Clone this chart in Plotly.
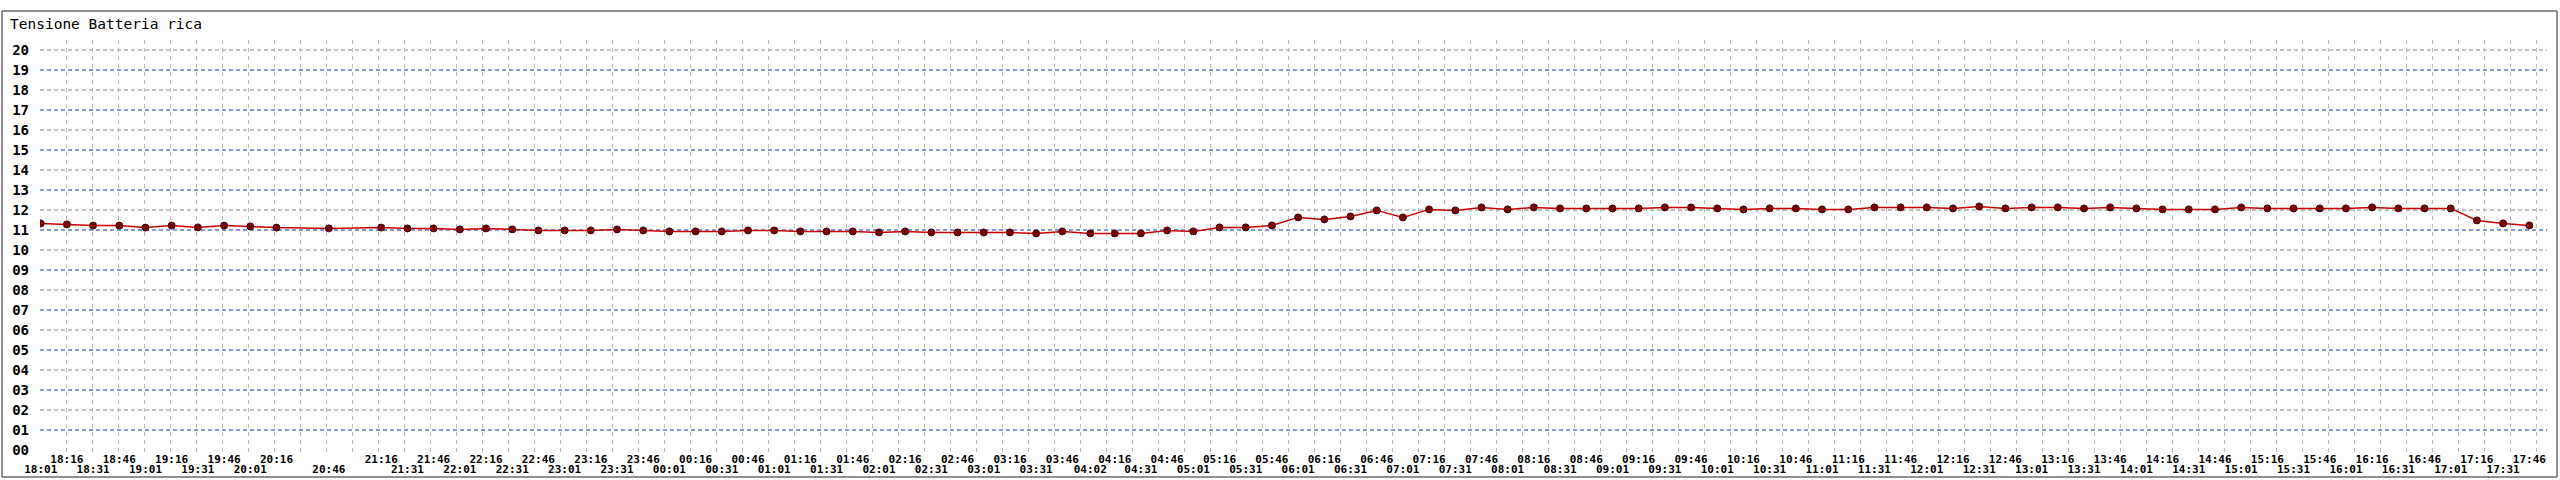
import plotly.graph_objects as go

# --- battery voltage readings, one every ~15 minutes (20:31 and 21:01 missing) ---
times = [
    "18:01", "18:16", "18:31", "18:46", "19:01", "19:16", "19:31", "19:46",
    "20:01", "20:16", "20:46", "21:16", "21:31", "21:46", "22:01", "22:16",
    "22:31", "22:46", "23:01", "23:16", "23:31", "23:46", "00:01", "00:16",
    "00:31", "00:46", "01:01", "01:16", "01:31", "01:46", "02:01", "02:16",
    "02:31", "02:46", "03:01", "03:16", "03:31", "03:46", "04:02", "04:16",
    "04:31", "04:46", "05:01", "05:16", "05:31", "05:46", "06:01", "06:16",
    "06:31", "06:46", "07:01", "07:16", "07:31", "07:46", "08:01", "08:16",
    "08:31", "08:46", "09:01", "09:16", "09:31", "09:46", "10:01", "10:16",
    "10:31", "10:46", "11:01", "11:16", "11:31", "11:46", "12:01", "12:16",
    "12:31", "12:46", "13:01", "13:16", "13:31", "13:46", "14:01", "14:16",
    "14:31", "14:46", "15:01", "15:16", "15:31", "15:46", "16:01", "16:16",
    "16:31", "16:46", "17:01", "17:16", "17:31", "17:46",
]
volts = [
    11.33, 11.28, 11.22, 11.22, 11.12, 11.22, 11.13, 11.22,
    11.18, 11.12, 11.08, 11.12, 11.08, 11.08, 11.03, 11.08,
    11.03, 10.98, 10.98, 10.98, 11.03, 10.98, 10.93, 10.93,
    10.93, 10.98, 10.98, 10.93, 10.93, 10.93, 10.88, 10.93,
    10.88, 10.88, 10.88, 10.88, 10.83, 10.93, 10.83, 10.83,
    10.83, 10.98, 10.93, 11.13, 11.13, 11.23, 11.63, 11.53,
    11.68, 11.98, 11.63, 12.03, 11.98, 12.13, 12.03, 12.13,
    12.08, 12.08, 12.08, 12.08, 12.13, 12.13, 12.08, 12.03,
    12.08, 12.08, 12.03, 12.03, 12.13, 12.13, 12.13, 12.08,
    12.18, 12.08, 12.13, 12.13, 12.08, 12.13, 12.08, 12.03,
    12.03, 12.03, 12.13, 12.08, 12.08, 12.08, 12.08, 12.13,
    12.08, 12.08, 12.08, 11.48, 11.33, 11.23,
]
y_ticks = list(range(0, 21))
y_labels = [f"{v:02d}" for v in y_ticks]


def minutes(t):
    h, m = map(int, t.split(":"))
    d = h * 60 + m - (18 * 60 + 1)
    return d + 1440 if d < 0 else d


x = [minutes(t) for t in times]

# labels alternate between two rows
top_x, top_lbl = x[1::2], times[1::2]
bot_x, bot_lbl = x[0::2], times[0::2]

# --- page geometry (pixels) ---
W, H = 2560, 480
L, R, T, B = 40, 13, 40, 24
PW, PH = W - L - R, H - T - B
px_per_min = 26.196 / 15
x0 = -0.7 / px_per_min
x_range = [x0, x0 + PW / px_per_min]
grid_step = 15 * 26.0 / 26.196

MONO = "DejaVu Sans Mono"
BLUE = "#0a30c4"
GRAY = "#858585"

fig = go.Figure()
fig.add_trace(go.Scatter(
    x=x, y=volts, mode="lines+markers",
    line=dict(color="#cc0000", width=1.5),
    marker=dict(color="#7a0000", size=7, line=dict(color="#4a0000", width=1)),
    showlegend=False))
# dummy trace so the second label row axis gets drawn
fig.add_trace(go.Scatter(x=[x[0]], y=[volts[0]], xaxis="x2", mode="markers",
                         marker=dict(opacity=0), hoverinfo="skip", showlegend=False))

for v in y_ticks[1:]:
    fig.add_shape(type="line", xref="x domain", x0=0, x1=1, yref="y", y0=v, y1=v,
                  line=dict(color=BLUE if v % 2 else GRAY, width=1, dash="4px,3px"),
                  layer="below")

# outer frame
fig.add_shape(type="rect", xref="paper", yref="paper",
              x0=(2 - L) / PW, x1=(2557 - L) / PW,
              y0=(H - B - 477) / PH, y1=(H - B - 11) / PH,
              line=dict(color="#222222", width=1))

tick_font = dict(family=MONO, size=11, color="black", weight="bold")
fig.update_layout(
    width=W, height=H,
    margin=dict(l=L, r=R, t=T, b=B),
    paper_bgcolor="white", plot_bgcolor="white",
    title=dict(text="Tensione Batteria rica", xref="container", yref="container",
               x=10 / W, xanchor="left", y=1 - 24 / H, yanchor="middle",
               font=dict(family=MONO, size=14.5, color="black")),
    xaxis=dict(range=x_range, tickmode="array", tickvals=top_x, ticktext=top_lbl,
               showgrid=False, zeroline=False, ticks="", tickfont=tick_font,
               ticklabelstandoff=-5, automargin=False,
               minor=dict(tick0=0, dtick=grid_step, showgrid=True, gridcolor="#bbbbbb",
                          griddash="4px,4px", gridwidth=1, ticks="")),
    xaxis2=dict(overlaying="x", matches="x", anchor="y", side="bottom",
                range=x_range, tickmode="array", tickvals=bot_x, ticktext=bot_lbl,
                showgrid=False, zeroline=False, ticks="", tickfont=tick_font,
                ticklabelstandoff=5, automargin=False),
    yaxis=dict(range=[-0.3, 20.5], tickmode="array", tickvals=y_ticks, ticktext=y_labels,
               showgrid=False, zeroline=False, ticks="", ticklabelstandoff=10,
               automargin=False,
               tickfont=dict(family=MONO, size=14, color="black", weight="bold")),
)

# drop the default page margin so the figure sits at the window's top-left corner
fig.write_html("out.html", config={"displayModeBar": False},
               post_script="document.body.style.margin = '0';")
